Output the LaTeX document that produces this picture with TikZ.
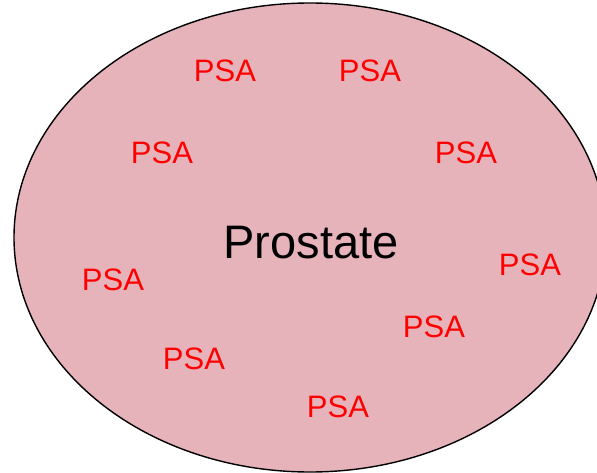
\documentclass[tikz,border=0pt]{standalone}
\usepackage{fontspec}
\setmainfont{Liberation Sans}
\usetikzlibrary{positioning,shapes.geometric}
\definecolor{GlandPink}{RGB}{230,179,187}
\begin{document}
\begin{tikzpicture}[x=1pt,y=-1pt,
	psa/.style={text=red,font=\fontsize{31}{31}\selectfont,inner sep=0pt}]
			\useasboundingbox (0,0) rectangle (597,473);
			\clip (0,0) rectangle (597,473);
			\node [ellipse,draw,line width=1.4pt,fill=GlandPink,inner sep=0pt,
			minimum width=592pt,minimum height=469pt, name = gland] at (310,237.5) {};
			\node [font=\fontsize{47}{47}\selectfont,inner sep=0pt, name = prostate] at (311,243) {Prostate};
			\node [psa, name = psa1] at (225,71) {PSA};
			\node [psa, name = psa2] at (370,71) {PSA};
			\node [psa, name = psa3] at (162,153) {PSA};
			\node [psa, name = psa4] at (466,153) {PSA};
			\node [psa, name = psa5] at (113,280) {PSA};
			\node [psa, name = psa6] at (530,265) {PSA};
			\node [psa, name = psa7] at (434,327) {PSA};
			\node [psa, name = psa8] at (194,359) {PSA};
			\node [psa, name = psa9] at (338,407) {PSA};
		\end{tikzpicture}
\end{document}
